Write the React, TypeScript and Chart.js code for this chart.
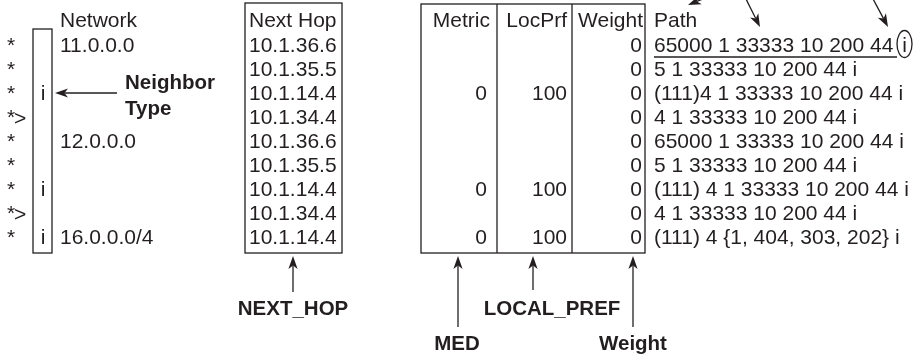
import React, { useEffect, useRef } from 'react';
import { Chart, registerables } from 'chart.js';

Chart.register(...registerables);

// ---- data ----
const statusCodes = ['*', '*', '*', '*>', '*', '*', '*', '*>', '*'];
const neighborTypes = ['', '', 'i', '', '', '', 'i', '', 'i'];
const networks = ['11.0.0.0', '', '', '', '12.0.0.0', '', '', '', '16.0.0.0/4'];
const nextHops = ['10.1.36.6', '10.1.35.5', '10.1.14.4', '10.1.34.4', '10.1.36.6', '10.1.35.5', '10.1.14.4', '10.1.34.4', '10.1.14.4'];
const metrics = ['', '', '0', '', '', '', '0', '', '0'];
const localPrefs = ['', '', '100', '', '', '', '100', '', '100'];
const weights = ['0', '0', '0', '0', '0', '0', '0', '0', '0'];
const paths = [
  '65000 1 33333 10 200 44',
  '5 1 33333 10 200 44 i',
  '(111)4 1 33333 10 200 44 i',
  '4 1 33333 10 200 44 i',
  '65000 1 33333 10 200 44 i',
  '5 1 33333 10 200 44 i',
  '(111) 4 1 33333 10 200 44 i',
  '4 1 33333 10 200 44 i',
  '(111) 4 {1, 404, 303, 202} i',
];
const circledOrigin = 'i';
const columnHeaders = ['Network', 'Next Hop', 'Metric', 'LocPrf', 'Weight', 'Path'];
const calloutLabels = ['Neighbor', 'Type', 'NEXT_HOP', 'MED', 'LOCAL_PREF', 'Weight'];

// ---- layout ----
const W = 918;
const H = 356;
const ROW0 = 45;
const ROW_STEP = 24;
const HEADER_Y = 20;
const FONT = "'Liberation Sans', Arial, Helvetica, sans-serif";
const INK = '#231f20';
const REG = 21;
const BOLD = 20.5;

const tablePlugin = {
  id: 'bgpTable',
  afterDraw(chart: any) {
    const ctx: CanvasRenderingContext2D = chart.ctx;
    const xs = chart.scales.x;
    const ys = chart.scales.y;
    const X = (v: number) => xs.getPixelForValue(v);
    const Y = (v: number) => ys.getPixelForValue(v);
    const rowY = (i: number) => ROW0 + i * ROW_STEP;

    ctx.save();
    ctx.fillStyle = INK;
    ctx.strokeStyle = INK;
    ctx.lineWidth = 1.3;

    const text = (s: string, x: number, yc: number, align: CanvasTextAlign = 'left', bold = false) => {
      const size = bold ? BOLD : REG;
      ctx.font = `${bold ? 'bold ' : ''}${size}px ${FONT}`;
      ctx.textAlign = align;
      ctx.textBaseline = 'alphabetic';
      ctx.fillText(s, X(x), Y(yc + size * 0.345));
    };
    const line = (x1: number, y1: number, x2: number, y2: number) => {
      ctx.beginPath();
      ctx.moveTo(X(x1), Y(y1));
      ctx.lineTo(X(x2), Y(y2));
      ctx.stroke();
    };
    const rect = (x1: number, y1: number, x2: number, y2: number) => {
      ctx.strokeRect(X(x1), Y(y1), X(x2) - X(x1), Y(y2) - Y(y1));
    };
    const arrow = (x1: number, y1: number, x2: number, y2: number) => {
      const px1 = X(x1), py1 = Y(y1), px2 = X(x2), py2 = Y(y2);
      const ang = Math.atan2(py2 - py1, px2 - px1);
      const len = 13, half = 4.6, notch = 3.5;
      const ux = Math.cos(ang), uy = Math.sin(ang);
      const nx = -uy, ny = ux;
      ctx.beginPath();
      ctx.moveTo(px1, py1);
      ctx.lineTo(px2 - ux * (len - notch), py2 - uy * (len - notch));
      ctx.stroke();
      ctx.beginPath();
      ctx.moveTo(px2, py2);
      ctx.lineTo(px2 - ux * len + nx * half, py2 - uy * len + ny * half);
      ctx.lineTo(px2 - ux * (len - notch), py2 - uy * (len - notch));
      ctx.lineTo(px2 - ux * len - nx * half, py2 - uy * len - ny * half);
      ctx.closePath();
      ctx.fill();
    };

    // headers
    text(columnHeaders[0], 60, HEADER_Y);
    text(columnHeaders[1], 249, HEADER_Y);
    text(columnHeaders[2], 490, HEADER_Y, 'right');
    text(columnHeaders[3], 567, HEADER_Y, 'right');
    text(columnHeaders[4], 643, HEADER_Y, 'right');
    text(columnHeaders[5], 654, HEADER_Y);

    // rows
    statusCodes.forEach((s, i) => {
      const y = rowY(i);
      text('*', 7, y);
      if (s.includes('>')) text('>', 14, y + 1);
      if (neighborTypes[i]) text(neighborTypes[i], 43, y, 'center');
      if (networks[i]) text(networks[i], 60, y);
      text(nextHops[i], 249, y);
      if (metrics[i]) text(metrics[i], 487, y, 'right');
      if (localPrefs[i]) text(localPrefs[i], 567, y, 'right');
      text(weights[i], 642, y, 'right');
      text(paths[i], 654, y);
    });

    // circled origin code on first path + underline
    text(circledOrigin, 904.5, rowY(0), 'center');
    ctx.beginPath();
    ctx.ellipse(X(904.5), Y(rowY(0) - 1), 7.5, 13.5, 0, 0, Math.PI * 2);
    ctx.stroke();
    line(654, 57, 897, 57);

    // boxes
    rect(33, 29, 52, 253);
    rect(245, 3, 342, 253);
    rect(421, 4, 645, 253);
    line(497, 4, 497, 253);
    line(572, 4, 572, 253);

    // neighbor type callout
    arrow(117, rowY(2), 55, rowY(2));
    text(calloutLabels[0], 125, 82, 'left', true);
    text(calloutLabels[1], 125, 108, 'left', true);

    // bottom callouts
    arrow(293, 292, 293, 256);
    text(calloutLabels[2], 293, 308, 'center', true);
    arrow(458, 327, 458, 256);
    text(calloutLabels[3], 457, 343, 'center', true);
    arrow(533, 290, 533, 256);
    text(calloutLabels[4], 552, 308, 'center', true);
    arrow(633, 327, 633, 256);
    text(calloutLabels[5], 599, 343, 'left', true);

    // top arrows into path
    arrow(720, -8, 688, 5);
    arrow(745, -3, 760, 27);
    arrow(872, -3, 888, 27);

    ctx.restore();
  },
};

export default function App() {
  const ref = useRef<HTMLCanvasElement | null>(null);
  useEffect(() => {
    if (!ref.current) return;
    const chart = new Chart(ref.current, {
      type: 'scatter',
      data: { datasets: [{ data: [], pointRadius: 0 }] },
      options: {
        responsive: false,
        animation: false,
        events: [],
        layout: { padding: 0 },
        plugins: { legend: { display: false }, tooltip: { enabled: false } },
        scales: {
          x: { type: 'linear', min: 0, max: W, display: false },
          y: { type: 'linear', min: 0, max: H, reverse: true, display: false },
        },
      },
      plugins: [tablePlugin],
    });
    return () => chart.destroy();
  }, []);
  return (
    <div style={{ position: 'absolute', left: 0, top: 0, width: W, height: H, background: '#fff' }}>
      <canvas ref={ref} width={W} height={H} style={{ display: 'block' }} />
    </div>
  );
}
